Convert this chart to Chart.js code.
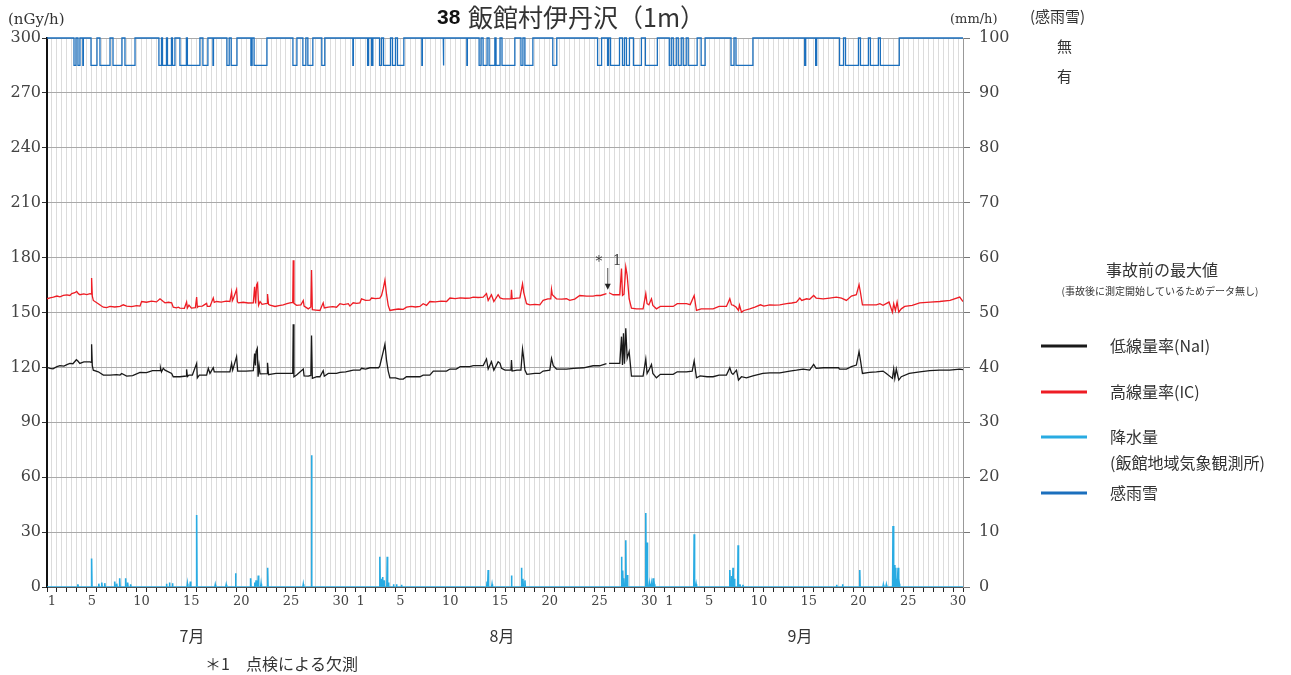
<!DOCTYPE html>
<html><head><meta charset="utf-8">
<script src="https://cdn.jsdelivr.net/npm/chart.js@4.4.1/dist/chart.umd.min.js"></script>
<style>html,body{margin:0;padding:0;background:#fff;}canvas{display:block;}</style>
</head><body>
<canvas id="c" width="1291" height="675"></canvas>
<script>
// ---- categories / ticks ----
const monthNames = ['7月', '8月', '9月'];
const monthDays = [31, 31, 30];
const labeledDays = [1, 5, 10, 15, 20, 25, 30];
const doseTicks = [0, 30, 60, 90, 120, 150, 180, 210, 240, 270, 300];
const rainTicks = [0, 10, 20, 30, 40, 50, 60, 70, 80, 90, 100];

// ---- series: [day since Jul 1 00:00, value] ----
const naiReadings = [[0,120.0],[0.3,119.5],[0.6,119.2],[1.0,120.4],[1.3,121.0],[1.7,120.7],[2.0,121.5],[2.3,122.2],[2.6,122.0],[2.95,124.2],[3.1,123.5],[3.3,122.2],[3.7,123.0],[4.1,123.0],[4.32,123.0],[4.44,122.8],[4.48,132.6],[4.55,121.0],[4.65,118.5],[5.15,117.6],[5.66,115.8],[6.33,115.8],[7.0,116.0],[7.33,115.8],[7.5,116.7],[8.0,115.2],[8.6,115.5],[9.34,117.3],[10.0,117.1],[10.6,118.2],[11.35,118.2],[11.4,119.8],[11.5,117.6],[11.68,119.5],[11.85,118.5],[12.52,116.7],[12.68,114.9],[13.35,114.9],[14.0,115.3],[14.02,118.9],[14.1,115.0],[14.26,115.8],[14.6,115.8],[15.03,122.2],[15.1,114.3],[15.3,115.8],[16.03,115.8],[16.2,119.5],[16.37,116.7],[16.7,119.8],[16.8,117.6],[17.5,117.6],[18.37,117.6],[18.54,122.2],[18.65,118.5],[19.04,125.9],[19.15,118.0],[20.0,118.0],[20.72,118.2],[20.85,127.6],[20.93,121.0],[21.0,128.6],[21.12,130.4],[21.2,114.9],[21.3,121.0],[21.4,116.5],[22.1,116.6],[22.15,122.5],[22.25,116.0],[22.39,116.2],[23.0,116.7],[23.73,116.7],[24.4,116.7],[24.68,116.7],[24.73,143.6],[24.8,114.9],[25.07,115.8],[25.74,119.1],[25.82,115.4],[26.24,115.2],[26.5,115.6],[26.57,137.4],[26.65,114.0],[27.1,114.9],[27.41,114.9],[27.74,118.2],[27.85,115.2],[28.25,116.7],[29.08,116.7],[29.42,117.3],[30.0,117.6],[30.75,118.5],[31.43,118.5],[31.59,119.5],[32.0,119.1],[32.43,119.8],[33.3,119.8],[33.43,120.9],[33.77,128.6],[33.94,132.6],[34.1,124.0],[34.27,118.0],[34.44,114.3],[35.0,114.3],[35.4,113.6],[35.78,113.6],[36.11,114.9],[37.45,114.9],[37.78,115.8],[38.45,115.8],[38.8,118.0],[39.8,118.0],[40.13,118.0],[40.47,119.1],[41.1,119.1],[41.5,120.4],[42.47,120.4],[42.81,121.0],[43.81,121.0],[44.14,124.6],[44.31,119.1],[44.64,123.1],[44.88,118.5],[45.31,123.1],[45.5,122.2],[45.65,119.5],[46.0,118.5],[46.6,118.5],[46.65,124.0],[46.72,118.0],[47.2,118.5],[47.6,118.5],[47.76,130.0],[47.88,124.9],[48.0,118.5],[48.2,116.2],[49.0,116.7],[49.5,116.7],[49.83,118.0],[50.5,118.5],[50.67,124.9],[50.85,120.9],[51.17,119.1],[52.18,119.1],[52.9,119.5],[53.9,119.8],[54.85,120.9],[55.5,120.9],[56.19,122.0],[56.45,122.2],[57.0,122.2],[57.53,122.2],[57.7,136.8],[57.8,121.3],[57.9,138.7],[58.0,122.0],[58.13,141.4],[58.27,124.9],[58.47,128.6],[58.6,121.3],[58.7,115.2],[59.87,115.2],[60.14,124.6],[60.27,116.7],[60.45,118.5],[60.71,121.6],[60.85,116.7],[61.21,114.3],[61.6,116.2],[62.89,116.2],[63.3,117.6],[64.22,117.6],[64.8,118.0],[65.0,123.5],[65.23,114.3],[65.6,115.4],[66.3,114.9],[66.9,114.9],[67.5,115.8],[68.24,115.8],[68.58,119.8],[68.75,117.0],[68.9,116.2],[69.25,118.5],[69.45,113.1],[69.75,114.9],[70.25,114.3],[70.9,115.4],[71.9,116.7],[72.59,117.0],[73.6,117.0],[74.6,118.0],[75.27,118.5],[75.95,119.1],[76.6,118.5],[77.0,121.6],[77.25,119.5],[78.0,119.8],[79.5,119.8],[79.6,119.1],[80.29,119.1],[80.79,120.4],[81.29,121.3],[81.56,128.6],[81.7,124.0],[81.9,116.7],[82.6,117.3],[83.3,117.6],[83.97,118.0],[84.3,116.7],[84.91,114.0],[85.04,119.1],[85.15,114.0],[85.3,119.1],[85.55,113.1],[85.8,114.9],[86.6,116.7],[87.65,117.6],[88.66,118.2],[89.66,118.5],[90.66,118.5],[91.67,119.1],[92.0,118.8]];

const icReadings = [[0,157.5],[0.3,158.0],[0.64,158.4],[1.0,159.0],[1.3,158.6],[1.64,159.3],[2.0,159.6],[2.3,159.3],[2.48,160.3],[2.8,160.8],[2.98,161.5],[3.15,160.3],[3.31,159.7],[3.7,160.2],[4.0,159.8],[4.32,160.3],[4.44,160.0],[4.48,168.8],[4.55,159.0],[4.65,156.6],[5.15,154.8],[5.4,153.8],[5.66,152.9],[5.99,152.7],[6.33,153.3],[6.8,153.0],[7.33,153.4],[7.66,154.2],[8.0,153.5],[8.5,153.2],[9.0,153.8],[9.34,153.5],[9.5,156.0],[10.0,155.6],[10.5,156.2],[11.0,155.8],[11.35,157.5],[11.68,156.0],[11.85,155.3],[12.2,155.6],[12.52,155.3],[12.68,152.9],[13.0,152.5],[13.19,152.9],[13.35,152.4],[13.8,152.3],[14.02,155.7],[14.1,152.5],[14.26,154.0],[14.5,152.4],[14.9,152.6],[15.03,158.4],[15.1,152.8],[15.19,153.3],[15.6,153.5],[16.03,155.0],[16.1,153.3],[16.37,153.3],[16.7,157.9],[16.8,155.5],[17.03,156.0],[17.5,155.7],[18.0,156.2],[18.37,156.0],[18.54,161.2],[18.62,156.5],[18.71,157.5],[19.04,162.6],[19.12,156.0],[19.21,155.3],[19.7,155.6],[20.2,155.2],[20.72,155.3],[20.85,164.1],[20.95,155.0],[21.05,165.0],[21.15,166.0],[21.25,154.0],[21.4,156.0],[21.6,154.5],[22.1,155.0],[22.15,160.1],[22.25,154.5],[22.39,154.0],[22.9,153.3],[23.3,153.8],[23.73,154.2],[24.1,154.8],[24.4,155.3],[24.68,155.5],[24.73,178.6],[24.8,155.0],[25.07,153.9],[25.5,154.2],[25.74,156.6],[25.82,153.5],[26.24,152.0],[26.5,153.0],[26.57,173.2],[26.65,151.5],[27.0,151.3],[27.41,151.1],[27.74,155.3],[27.85,152.5],[28.25,152.9],[28.7,153.2],[29.08,152.9],[29.42,154.8],[29.8,154.3],[30.26,154.8],[30.42,153.5],[30.75,155.3],[31.1,155.0],[31.43,155.3],[31.59,157.5],[32.0,156.6],[32.43,156.8],[32.6,157.9],[33.0,157.6],[33.43,157.9],[33.6,159.3],[33.77,163.0],[33.94,167.6],[34.1,160.0],[34.27,153.9],[34.44,151.1],[34.8,151.5],[35.3,151.9],[35.78,151.7],[36.11,152.9],[36.6,153.3],[37.0,153.0],[37.45,153.3],[37.78,154.8],[38.12,153.9],[38.45,156.0],[39.0,155.8],[39.6,156.2],[40.13,156.0],[40.47,157.9],[41.0,157.6],[41.5,158.0],[42.0,157.8],[42.47,157.9],[42.81,158.4],[43.3,158.2],[43.81,158.4],[44.14,160.3],[44.31,156.6],[44.64,159.7],[44.88,156.0],[45.31,159.7],[45.5,158.0],[45.8,157.5],[46.3,157.5],[46.6,157.6],[46.65,162.4],[46.72,157.5],[47.2,157.8],[47.5,158.0],[47.76,165.7],[47.88,161.0],[48.16,154.8],[48.5,154.2],[49.0,154.4],[49.5,154.2],[49.83,156.6],[50.3,157.4],[50.6,157.5],[50.67,162.6],[50.75,159.7],[51.17,157.5],[51.7,157.3],[52.18,157.5],[52.5,156.6],[53.0,157.3],[53.51,159.3],[54.2,159.0],[54.85,159.0],[55.2,159.3],[55.6,159.3],[56.19,160.3],[56.45,160.8],[56.86,159.7],[57.2,159.8],[57.53,159.7],[57.7,174.0],[57.8,159.3],[57.95,160.0],[58.13,174.9],[58.27,170.3],[58.47,157.5],[58.7,152.4],[59.2,152.0],[59.87,152.0],[60.14,160.3],[60.27,154.8],[60.45,154.2],[60.71,157.5],[60.85,153.9],[61.21,152.0],[61.6,153.3],[62.2,153.3],[62.89,153.3],[63.3,154.8],[63.8,154.8],[64.22,154.8],[64.6,154.3],[65.0,159.3],[65.23,151.1],[65.7,152.0],[66.3,152.0],[66.9,152.0],[67.5,153.3],[68.24,153.3],[68.58,157.5],[68.75,154.2],[68.9,154.0],[69.2,153.0],[69.45,151.1],[69.55,154.0],[69.75,150.2],[70.0,151.1],[70.58,152.0],[71.1,152.9],[71.66,154.2],[72.0,153.5],[72.59,154.2],[73.1,154.0],[73.6,154.2],[74.27,154.8],[74.8,155.2],[75.27,155.7],[75.61,157.9],[75.8,156.6],[76.3,157.5],[76.6,157.2],[77.0,159.3],[77.25,157.9],[77.95,157.5],[78.6,157.9],[79.28,158.4],[79.8,157.9],[80.29,156.6],[80.79,159.0],[81.29,159.7],[81.56,165.2],[81.7,161.0],[81.9,154.2],[82.6,154.2],[83.3,154.2],[83.65,154.8],[83.97,153.9],[84.57,155.7],[84.91,150.2],[85.04,154.8],[85.21,151.1],[85.38,155.7],[85.55,150.2],[85.8,152.0],[86.15,153.3],[86.9,153.9],[87.65,155.3],[88.7,155.7],[89.66,156.0],[90.7,156.6],[91.67,158.4],[92.0,156.0]];

// missing measurement (inspection, *1)
const missingDays = [56.32];

// rainfall events (mm/h), all other hours 0
const rainEvents = [[3.1,0.5],[4.48,5.2],[5.2,0.6],[5.5,0.8],[5.8,0.7],[6.8,1.0],[7.0,0.6],[7.3,1.6],[7.9,1.6],[8.1,0.8],[8.4,0.5],[12.0,0.6],[12.3,0.8],[12.6,0.7],[14.1,0.6],[14.4,1.0],[15.03,13.1],[16.9,0.4],[18.0,0.4],[18.94,2.5],[20.45,1.6],[20.85,0.8],[21.0,1.2],[21.22,2.1],[21.5,0.6],[22.16,3.5],[25.74,0.5],[26.57,24.0],[33.43,5.5],[33.55,1.5],[33.7,1.8],[33.85,1.2],[34.17,5.5],[34.3,0.8],[34.8,0.5],[35.1,0.5],[35.6,0.4],[44.2,1.0],[44.31,3.1],[44.7,0.5],[46.65,2.1],[47.65,3.5],[47.8,1.5],[48.0,1.2],[57.7,5.5],[57.82,3.0],[57.95,1.6],[58.13,8.5],[58.3,2.2],[60.14,13.5],[60.27,8.1],[60.5,0.6],[60.7,0.6],[60.88,1.6],[61.0,0.5],[65.0,9.6],[65.2,0.5],[68.58,3.1],[68.75,2.0],[68.9,3.5],[69.05,1.5],[69.41,7.6],[69.6,0.5],[69.9,0.4],[79.3,0.4],[79.9,0.5],[81.63,3.1],[84.0,0.4],[84.3,0.4],[84.97,11.1],[85.1,4.0],[85.21,3.5],[85.35,1.5],[85.48,3.5],[85.6,0.6]];

// rain/snow sensor "有" periods [start, end] in days
const sensorOnPeriods = [[2.71,2.91],[3.11,3.31],[3.6,3.65],[4.42,5.02],[5.32,6.33],[6.63,7.53],[7.83,8.84],[11.24,11.5],[11.6,12.0],[12.1,12.5],[12.6,12.85],[13.35,14.0],[14.1,15.36],[15.66,16.16],[16.67,16.72],[18.07,18.3],[18.5,19.08],[20.48,20.6],[20.8,22.09],[24.7,25.1],[25.7,26.0],[26.2,26.7],[27.6,27.9],[30.72,30.77],[32.2,32.3],[32.6,32.73],[33.4,33.6],[33.8,34.5],[34.7,35.0],[35.2,35.84],[37.65,37.7],[39.8,39.85],[42.17,42.22],[43.4,43.6],[43.8,44.2],[44.4,44.98],[45.1,45.5],[45.7,46.99],[47.6,47.8],[48.0,48.8],[50.8,51.2],[55.3,55.7],[56.3,56.4],[56.6,57.5],[57.8,58.0],[58.2,58.5],[58.9,59.7],[60.1,61.3],[62.5,62.7],[62.9,63.2],[63.4,63.7],[63.9,64.2],[64.4,65.3],[65.7,66.1],[68.7,69.0],[69.2,70.9],[76.1,76.2],[77.2,77.3],[79.6,80.0],[80.2,81.5],[81.7,82.5],[82.7,83.5],[83.7,85.6]];
const sensorLevelNone = 300;   // 無
const sensorLevelRain = 285;   // 有

const legendItems = [
  {label: ['低線量率(NaI)'], color: '#1a1a1a'},
  {label: ['高線量率(IC)'], color: '#ee1c24'},
  {label: ['降水量', '(飯館地域気象観測所)'], color: '#29abe2'},
  {label: ['感雨雪'], color: '#1b6fbd'}
];

// ---- build datasets ----
const totalDays = monthDays.reduce((a, b) => a + b, 0);
function withGaps(readings) {
  const pts = readings.map(([x, y]) => ({x, y}));
  missingDays.forEach(g => pts.push({x: g, y: null}));
  return pts.sort((a, b) => a.x - b.x);
}
function rainPoints() {
  const pts = [{x: 0, y: 0}];
  rainEvents.forEach(([t, v]) => {
    pts.push({x: t - 0.04, y: 0}, {x: t, y: v}, {x: t + 0.04, y: 0});
  });
  pts.push({x: totalDays, y: 0});
  return pts.sort((a, b) => a.x - b.x);
}
function sensorPoints() {
  const pts = [{x: 0, y: sensorLevelNone}];
  sensorOnPeriods.forEach(([s, e]) => {
    pts.push({x: s, y: sensorLevelNone}, {x: s, y: sensorLevelRain},
             {x: e, y: sensorLevelRain}, {x: e, y: sensorLevelNone});
  });
  pts.push({x: totalDays, y: sensorLevelNone});
  return pts;
}
function dayLabel(v) {
  if (Math.abs(v % 1 - 0.5) > 1e-6) return '';
  let d = Math.floor(v);
  for (let m = 0; m < monthDays.length; m++) {
    if (d < monthDays[m]) return labeledDays.includes(d + 1) ? String(d + 1) : '';
    d -= monthDays[m];
  }
  return '';
}

const SERIF = '"DejaVu Serif", "Liberation Serif", serif';
const JP = '"Noto Sans CJK JP", "Noto Sans", sans-serif';

const decor = {
  id: 'decor',
  afterDraw(chart) {
    const {ctx, scales: {x, y}} = chart;
    ctx.save();
    ctx.textBaseline = 'middle';
    ctx.fillStyle = '#333';
    // title
    ctx.font = 'bold 21px "Liberation Sans", Arial, sans-serif';
    ctx.textAlign = 'left';
    ctx.fillStyle = '#111';
    ctx.fillText('38', 437, 18);
    ctx.font = '25px ' + JP;
    ctx.fillStyle = '#333';
    ctx.fillText('飯館村伊丹沢（1m）', 468, 17);
    // axis units
    ctx.font = '15px ' + SERIF;
    ctx.fillText('(nGy/h)', 8, 20);
    ctx.font = '13px ' + SERIF;
    ctx.fillText('(mm/h)', 950, 20);
    // sensor legend
    ctx.font = '15px ' + JP;
    ctx.fillText('(感雨雪)', 1030, 16);
    ctx.fillText('無', 1057, 46);
    ctx.fillText('有', 1057, 76);
    // max before accident
    ctx.textAlign = 'center';
    ctx.font = '16px ' + JP;
    ctx.fillText('事故前の最大値', 1162, 270);
    ctx.font = '10px ' + JP;
    ctx.fillText('(事故後に測定開始しているためデータ無し)', 1160, 291);
    // legend
    const ly = [346, 392, 437, 493];
    legendItems.forEach((it, i) => {
      ctx.strokeStyle = it.color;
      ctx.lineWidth = 3;
      ctx.beginPath();
      ctx.moveTo(1041, ly[i]); ctx.lineTo(1087, ly[i]);
      ctx.stroke();
      ctx.textAlign = 'left';
      ctx.font = '16px ' + JP;
      ctx.fillStyle = '#333';
      it.label.forEach((t, k) => ctx.fillText(t, 1110, ly[i] + k * 26));
    });
    // month labels
    ctx.textAlign = 'center';
    ctx.font = '16px ' + JP;
    const mx = [192, 502, 800];
    monthNames.forEach((m, i) => ctx.fillText(m, mx[i], 636));
    // footnote
    ctx.textAlign = 'left';
    ctx.fillText('＊1　点検による欠測', 205, 664);
    // *1 annotation with arrow
    const ax = x.getPixelForValue(missingDays[0]);
    const tip = y.getPixelForValue(162.5);
    ctx.font = '16px ' + SERIF;
    ctx.fillStyle = '#444';
    ctx.textAlign = 'right';
    ctx.fillText('＊', ax - 1, 262);
    ctx.textAlign = 'left';
    ctx.font = '14px ' + SERIF;
    ctx.fillText('1', ax + 5, 261);
    ctx.strokeStyle = '#555';
    ctx.lineWidth = 1;
    ctx.beginPath();
    ctx.moveTo(ax, 268); ctx.lineTo(ax, tip - 5);
    ctx.stroke();
    ctx.fillStyle = '#222';
    ctx.beginPath();
    ctx.moveTo(ax - 3, tip - 6); ctx.lineTo(ax + 3, tip - 6); ctx.lineTo(ax, tip);
    ctx.closePath(); ctx.fill();
    ctx.restore();
  }
};

new Chart(document.getElementById('c'), {
  type: 'line',
  data: {
    datasets: [
      {label: '低線量率(NaI)', data: withGaps(naiReadings), borderColor: '#1a1a1a', borderWidth: 1.3, yAxisID: 'y', spanGaps: false},
      {label: '高線量率(IC)', data: withGaps(icReadings), borderColor: '#ee1c24', borderWidth: 1.3, yAxisID: 'y', spanGaps: false},
      {label: '降水量', data: rainPoints(), borderColor: '#29abe2', borderWidth: 1.6, yAxisID: 'y2'},
      {label: '感雨雪', data: sensorPoints(), borderColor: '#1b6fbd', borderWidth: 1.3, yAxisID: 'y', clip: 4}
    ]
  },
  options: {
    responsive: false,
    animation: false,
    elements: {point: {radius: 0}, line: {tension: 0}},
    layout: {padding: {top: 38, left: 0, right: 0, bottom: 0}},
    plugins: {legend: {display: false}, tooltip: {enabled: false}, title: {display: false}},
    scales: {
      x: {
        type: 'linear', min: 0, max: totalDays,
        afterBuildTicks: s => { const t = []; for (let i = 0; i <= totalDays * 2; i++) t.push({value: i / 2}); s.ticks = t; },
        afterFit: s => { s.height = 88; },
        ticks: {autoSkip: false, maxRotation: 0, minRotation: 0, padding: 2, color: '#444',
                font: {family: SERIF, size: 13}, callback: v => dayLabel(v)},
        grid: {color: '#dcdcdc', lineWidth: 1, tickLength: 5,
               tickColor: c => (c.tick && Math.abs(c.tick.value % 1) < 1e-6) ? '#222' : 'rgba(0,0,0,0)'},
        border: {display: true, color: '#555', width: 1}
      },
      y: {
        position: 'left', min: 0, max: 300,
        afterBuildTicks: s => { s.ticks = doseTicks.map(v => ({value: v})); },
        afterFit: s => { s.width = 47; },
        ticks: {color: '#444', padding: 1, font: {family: SERIF, size: 16}},
        grid: {color: '#a9a9a9', lineWidth: 1, tickLength: 5, tickColor: '#333'},
        border: {display: true, color: '#111', width: 2}
      },
      y2: {
        position: 'right', min: 0, max: 100,
        afterBuildTicks: s => { s.ticks = rainTicks.map(v => ({value: v})); },
        afterFit: s => { s.width = 1291 - 963; },
        ticks: {color: '#444', padding: 9, font: {family: SERIF, size: 16}},
        grid: {drawOnChartArea: false, tickLength: 7, tickColor: '#777'},
        border: {display: true, color: '#999', width: 1}
      }
    }
  },
  plugins: [decor]
});
</script>
</body></html>
